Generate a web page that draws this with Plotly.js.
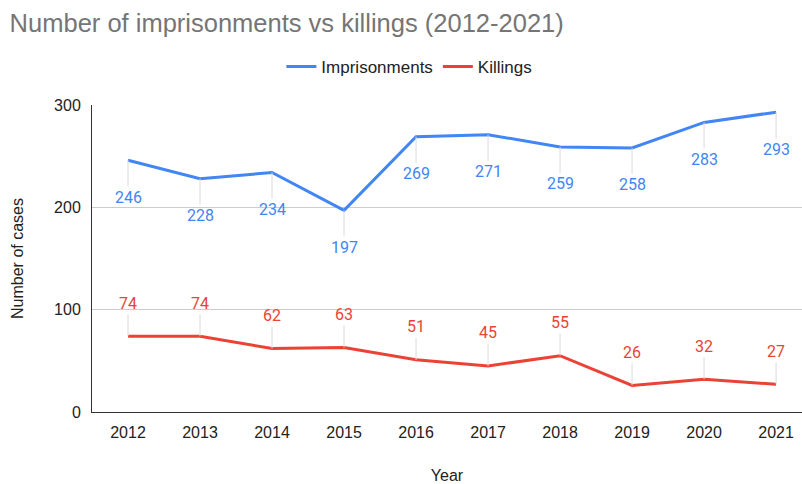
<!DOCTYPE html>
<html><head><meta charset="utf-8">
<script src="https://cdn.plot.ly/plotly-3.0.1.min.js"></script>
<style>body{margin:0;background:#fff}#c{width:802px;height:484px}</style>
</head><body><div id="c"></div>
<script>
const years = ['2012','2013','2014','2015','2016','2017','2018','2019','2020','2021'];
const imprisonments = [246,228,234,197,269,271,259,258,283,293];
const killings = [74,74,62,63,51,45,55,26,32,27];
const blue = '#4285F4', red = '#EA4335';
const font = 'Roboto, Arial, sans-serif';
const afont = 'Arial, "Liberation Sans", sans-serif';

const traces = [
  {x: years, y: imprisonments, name: 'Imprisonments', type: 'scatter', mode: 'lines', line: {color: blue, width: 3}},
  {x: years, y: killings, name: 'Killings', type: 'scatter', mode: 'lines', line: {color: red, width: 3}}
];
const ann = [];
years.forEach((yr, i) => {
  ann.push({x: i, y: imprisonments[i], xref: 'x', yref: 'y', text: String(imprisonments[i]), showarrow: true, arrowhead: 0, arrowwidth: 1, arrowcolor: '#dadada', ax: 0, ay: 37, font: {family: font, size: 16, color: blue}});
  ann.push({x: i, y: killings[i], xref: 'x', yref: 'y', text: String(killings[i]), showarrow: true, arrowhead: 0, arrowwidth: 1, arrowcolor: '#dadada', ax: 0, ay: -33, font: {family: font, size: 16, color: red}});
});
const layout = {
  width: 802, height: 484,
  margin: {l: 92, r: 0, t: 105, b: 72},
  paper_bgcolor: '#fff', plot_bgcolor: '#fff',
  font: {family: afont, color: '#222'},
  title: {text: 'Number of imprisonments vs killings (2012-2021)', x: 0.012, xanchor: 'left', y: 0.953, yanchor: 'middle', font: {family: afont, size: 25.5, color: '#757575'}},
  showlegend: true,
  legend: {orientation: 'h', x: 0.447, xanchor: 'center', y: 1.124, yanchor: 'middle', font: {family: afont, size: 17, color: '#222'}},
  xaxis: {type: 'category', range: [-0.5, 9.36], showgrid: false, showline: true, linecolor: '#333', linewidth: 1, ticks: '', tickangle: 0, automargin: false, ticklabelstandoff: 6, tickfont: {family: afont, size: 16, color: '#222'}, title: {text: 'Year', font: {family: afont, size: 16, color: '#222'}, standoff: 35}},
  yaxis: {range: [0, 300], tickvals: [0, 100, 200, 300], showgrid: true, gridcolor: '#cccccc', zeroline: false, showline: true, linecolor: '#333', linewidth: 1, ticks: '', automargin: false, ticklabelstandoff: 7, tickfont: {family: afont, size: 16, color: '#222'}, title: {text: 'Number of cases', font: {family: afont, size: 16, color: '#222'}, standoff: 26}},
  annotations: ann
};
Plotly.newPlot('c', traces, layout, {displayModeBar: false, staticPlot: true});
</script></body></html>
